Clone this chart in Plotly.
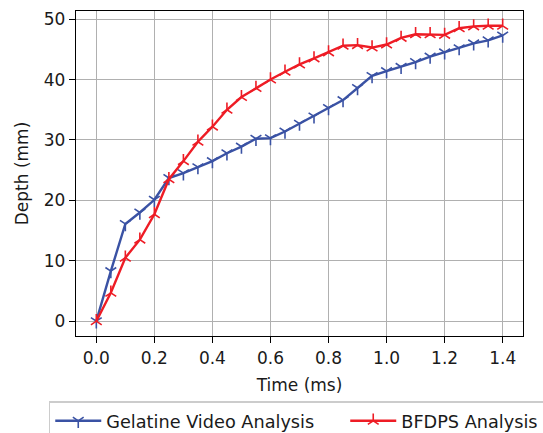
import plotly.graph_objects as go

time_ms = [0.0, 0.05, 0.1, 0.15, 0.2, 0.25, 0.3, 0.35, 0.4, 0.45, 0.5, 0.55, 0.6, 0.65, 0.7,
           0.75, 0.8, 0.85, 0.9, 0.95, 1.0, 1.05, 1.1, 1.15, 1.2, 1.25, 1.3, 1.35, 1.4]
gelatine = [0, 8.3, 16.1, 18.0, 20.1, 23.7, 24.5, 25.5, 26.5, 27.8, 28.9, 30.2, 30.3, 31.4, 32.7,
            33.9, 35.3, 36.6, 38.6, 40.6, 41.4, 42.1, 42.9, 43.8, 44.5, 45.2, 46.0, 46.5, 47.3]
bfdps = [0, 4.7, 10.5, 13.5, 17.7, 23.5, 26.5, 29.7, 32.2, 35.0, 37.1, 38.6, 40.0, 41.3, 42.5,
         43.5, 44.5, 45.6, 45.7, 45.3, 45.8, 46.9, 47.5, 47.5, 47.4, 48.5, 48.8, 48.9, 48.9]
x_ticks = [0.0, 0.2, 0.4, 0.6, 0.8, 1.0, 1.2, 1.4]
y_ticks = [0, 10, 20, 30, 40, 50]
series_names = ["Gelatine Video Analysis", "BFDPS Analysis"]

BLUE = "#3a52a4"
RED = "#ee1c25"
FONT = "DejaVu Sans"
TXT = "#1a1a1a"
FS = 17

fig = go.Figure()
fig.add_trace(go.Scatter(
    x=time_ms, y=gelatine, mode="lines+markers",
    name=series_names[0] + "\u00a0" * 4 + "\u2009",
    line=dict(color=BLUE, width=2.4),
    marker=dict(symbol="y-down", size=9, line=dict(color=BLUE, width=1.6)),
))
fig.add_trace(go.Scatter(
    x=time_ms, y=bfdps, mode="lines+markers", name=series_names[1],
    line=dict(color=RED, width=2.4),
    marker=dict(symbol="y-up", size=9, line=dict(color=RED, width=1.6)),
))

axis_common = dict(
    showline=True, linecolor="black", linewidth=1.3, mirror=True,
    showgrid=True, gridcolor="#b0b0b0", gridwidth=1.3,
    ticks="outside", ticklen=6, tickwidth=1.2, tickcolor="black",
    zeroline=False, tickfont=dict(family=FONT, size=FS, color=TXT),
)

fig.update_xaxes(
    range=[-0.07, 1.47], tickvals=x_ticks, ticktext=[f"{v:.1f}" for v in x_ticks],
    title=dict(text="Time (ms)", font=dict(family=FONT, size=FS, color=TXT), standoff=12),
    **axis_common,
)
fig.update_yaxes(
    range=[-2.45, 51.35], tickvals=y_ticks,
    title=dict(text="Depth (mm)", font=dict(family=FONT, size=FS, color=TXT), standoff=10),
    **axis_common,
)

fig.update_layout(
    width=543, height=433,
    margin=dict(l=76, r=20, t=11, b=97, autoexpand=False),
    plot_bgcolor="white", paper_bgcolor="white",
    font=dict(family=FONT, size=FS, color=TXT),
    legend=dict(
        orientation="h", x=-0.0605, xanchor="left", y=-0.2015, yanchor="top",
        bordercolor="#cccccc", borderwidth=1.3, bgcolor="white",
        font=dict(family=FONT, size=17.7, color=TXT),
        itemwidth=46,
    ),
)

fig.write_html(
    "out.html",
    config={"displayModeBar": False},
    post_script="document.body.style.margin='0';document.body.style.overflow='hidden';",
)
